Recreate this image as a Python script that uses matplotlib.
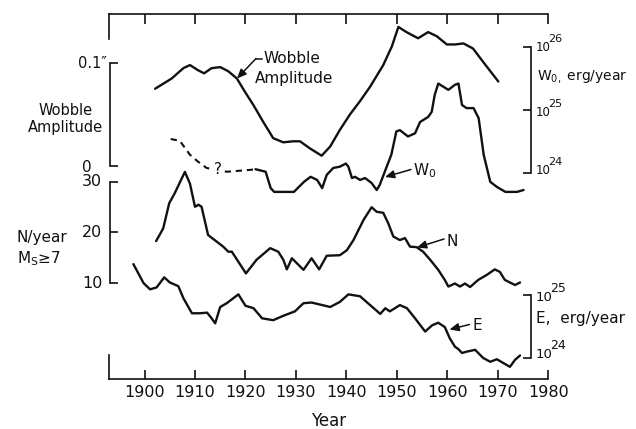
import numpy as np
import matplotlib
matplotlib.use("Agg")
import matplotlib.pyplot as plt
from matplotlib.lines import Line2D
from matplotlib.patches import FancyArrowPatch

plt.rcParams['font.family'] = ['DejaVu Sans']

# ---------------- data ----------------
decades = [1900, 1910, 1920, 1930, 1940, 1950, 1960, 1970, 1980]

wobble_year = [1902.1, 1905.4, 1907.7, 1909.0, 1910.6, 1911.8, 1913.3, 1915.0, 1916.6,
               1918.3, 1919.9, 1921.6, 1923.5, 1925.5, 1927.5, 1929.5, 1930.8, 1932.8,
               1935.1, 1936.8, 1938.7, 1940.7, 1942.7, 1944.7, 1947.3, 1949.0, 1950.3,
               1951.9, 1954.2, 1956.2, 1957.9, 1959.9, 1961.5, 1963.2, 1965.1, 1967.1, 1970.1]
wobble_amp = [0.075, 0.085, 0.095, 0.098, 0.093, 0.090, 0.095, 0.096, 0.092,
              0.085, 0.072, 0.059, 0.043, 0.027, 0.023, 0.024, 0.024, 0.017,
              0.010, 0.019, 0.035, 0.050, 0.063, 0.077, 0.098, 0.116, 0.135,
              0.130, 0.124, 0.130, 0.126, 0.118, 0.118, 0.119, 0.114, 0.101, 0.082]

# W0, uncertain (dashed) early part, log10(erg/year)
w0_dash_year = [1905.2, 1907.0, 1909.0, 1910.6, 1912.3, 1916.3, 1921.0, 1922.0]
w0_dash_log = [24.54, 24.51, 24.29, 24.18, 24.08, 24.02, 24.05, 24.06]
# W0, solid part, log10(erg/year)
w0_year = [1922.0, 1924.0, 1925.0, 1925.7, 1929.6, 1931.6, 1932.9, 1934.2, 1935.2, 1936.1,
           1937.4, 1938.7, 1939.9, 1940.4, 1941.1, 1941.7, 1942.7, 1943.7, 1945.0, 1946.0,
           1946.6, 1947.6, 1948.9, 1949.9, 1950.6, 1952.2, 1953.6, 1954.6, 1956.2, 1956.9,
           1957.5, 1958.2, 1959.2, 1960.2, 1961.5, 1962.2, 1962.9, 1963.8, 1965.2, 1966.2,
           1967.2, 1968.5, 1969.8, 1971.5, 1973.8, 1975.1]
w0_log = [24.06, 24.02, 23.76, 23.70, 23.70, 23.86, 23.94, 23.89, 23.76, 23.97,
          24.08, 24.10, 24.15, 24.10, 23.92, 23.94, 23.89, 23.92, 23.84, 23.73,
          23.81, 24.02, 24.29, 24.66, 24.68, 24.58, 24.63, 24.81, 24.89, 24.97,
          25.24, 25.42, 25.37, 25.32, 25.40, 25.42, 25.08, 25.03, 25.03, 24.87,
          24.29, 23.86, 23.78, 23.70, 23.70, 23.73]

# N: number of earthquakes per year with Ms >= 7
n_year = [1902.3, 1903.7, 1904.9, 1906.0, 1908.0, 1909.0, 1910.0, 1910.7, 1911.3, 1912.6,
          1914.3, 1915.6, 1916.6, 1917.3, 1920.1, 1922.2, 1924.9, 1926.5, 1927.5, 1928.2,
          1929.2, 1931.5, 1933.1, 1934.6, 1936.1, 1938.7, 1940.1, 1941.4, 1943.4, 1945.0,
          1946.0, 1947.3, 1948.3, 1949.3, 1950.6, 1951.6, 1952.6, 1953.9, 1955.2, 1956.6,
          1958.2, 1959.5, 1960.2, 1961.5, 1962.5, 1963.5, 1964.5, 1966.1, 1967.8, 1969.4,
          1970.4, 1971.4, 1973.4, 1974.4]
n_rate = [18.3, 20.8, 25.8, 27.8, 32.0, 29.7, 25.1, 25.5, 25.1, 19.5,
          18.2, 17.2, 16.2, 16.2, 11.9, 14.6, 16.9, 16.2, 14.6, 12.7,
          14.9, 12.6, 14.9, 12.7, 15.4, 15.5, 16.5, 18.5, 22.5, 25.0,
          24.1, 23.9, 21.8, 19.2, 18.5, 18.9, 17.2, 17.1, 16.2, 14.6,
          12.6, 10.6, 9.3, 9.9, 9.3, 9.9, 9.2, 10.6, 11.6, 12.7,
          12.2, 10.6, 9.6, 10.1]

# E: seismic energy release, log10(erg/year)
e_year = [1897.8, 1899.8, 1901.1, 1902.4, 1903.9, 1905.0, 1906.7, 1907.7, 1909.4, 1911.0,
          1912.4, 1913.3, 1914.0, 1915.0, 1916.3, 1918.6, 1920.0, 1921.6, 1923.3, 1925.5,
          1927.5, 1929.8, 1931.5, 1933.1, 1936.8, 1938.7, 1940.4, 1942.7, 1944.7, 1946.7,
          1947.7, 1948.6, 1950.6, 1952.0, 1953.6, 1955.6, 1957.0, 1958.2, 1959.5, 1960.5,
          1961.5, 1962.2, 1962.9, 1963.8, 1965.5, 1967.1, 1968.5, 1969.8, 1971.1, 1972.4,
          1973.4, 1974.4]
e_log = [25.49, 25.19, 25.09, 25.12, 25.28, 25.20, 25.14, 24.95, 24.71, 24.71,
         24.72, 24.63, 24.55, 24.81, 24.87, 25.01, 24.83, 24.79, 24.63, 24.60,
         24.67, 24.74, 24.87, 24.88, 24.81, 24.89, 25.01, 24.98, 24.84, 24.70,
         24.79, 24.74, 24.84, 24.79, 24.63, 24.42, 24.52, 24.56, 24.49, 24.31,
         24.18, 24.14, 24.08, 24.10, 24.13, 24.00, 23.94, 23.98, 23.92, 23.86,
         23.97, 24.04]

# ---------------- layout helpers (pixels from top-left) ----------------
W, H = 636, 429
fig = plt.figure(figsize=(W / 100, H / 100), dpi=100)
fig.patch.set_facecolor('white')

def fx(p):
    return p / W

def fy(p):
    return 1 - p / H

PX_L, PX_R = 108.5, 548.3
X_MIN, X_MAX = 1900 - (144.5 - PX_L) / 5.0475, 1980
LW = 1.7
AXLW = 1.2
INK = '#111111'

def ylims(v_a, p_a, v_b, p_b):
    s = (v_a - v_b) / (p_b - p_a)
    return v_a - (H - p_a) * s, v_a + p_a * s

def data_axes(ylim, log=False):
    a = fig.add_axes([fx(PX_L), 0, fx(PX_R) - fx(PX_L), 1])
    a.set_xlim(X_MIN, X_MAX)
    if log:
        a.set_yscale('log')
        a.set_ylim(10 ** ylim[0], 10 ** ylim[1])
    else:
        a.set_ylim(*ylim)
    a.axis('off')
    a.patch.set_alpha(0)
    return a

style = dict(color=INK, lw=LW, solid_joinstyle='round', solid_capstyle='round')

# ---------------- curves ----------------
ax_wob = data_axes(ylims(0.1, 63, 0.0, 166))
ax_wob.plot(wobble_year, wobble_amp, **style)

ax_w0 = data_axes(ylims(26, 47, 24, 173), log=True)
ax_w0.plot(w0_dash_year, 10 ** np.array(w0_dash_log), color=INK, lw=1.5,
           ls=(0, (3.0, 2.3)))
ax_w0.plot(w0_year, 10 ** np.array(w0_log), **style)

ax_n = data_axes(ylims(30, 182, 10, 283))
ax_n.plot(n_year, n_rate, **style)

ax_e = data_axes(ylims(25, 295, 24, 358), log=True)
ax_e.plot(e_year, 10 ** np.array(e_log), **style)

# ---------------- time axes (top and bottom) ----------------
def clean(a):
    a.patch.set_alpha(0)
    for s in a.spines.values():
        s.set_visible(False)
        s.set_linewidth(AXLW)
        s.set_color(INK)

ax_bot = fig.add_axes([fx(PX_L), fy(378.5), fx(PX_R) - fx(PX_L), (378.5 - 355) / H])
clean(ax_bot)
ax_bot.set_xlim(X_MIN, X_MAX)
ax_bot.spines['bottom'].set_visible(True)
ax_bot.spines['left'].set_visible(True)
ax_bot.set_xticks(decades)
ax_bot.set_xticklabels([str(d) for d in decades])
ax_bot.set_yticks([])
ax_bot.tick_params(axis='x', direction='in', length=6.5, width=AXLW, color=INK,
                   labelsize=11.5, pad=5, labelcolor=INK)
ax_bot.set_xlabel('Year', fontsize=12, color=INK, labelpad=8)

ax_top = fig.add_axes([fx(PX_L), fy(39), fx(PX_R) - fx(PX_L), (39 - 14) / H])
clean(ax_top)
ax_top.set_xlim(X_MIN, X_MAX)
ax_top.spines['top'].set_visible(True)
ax_top.spines['left'].set_visible(True)
ax_top.xaxis.tick_top()
ax_top.set_xticks(decades)
ax_top.set_xticklabels([])
ax_top.set_yticks([])
ax_top.tick_params(axis='x', direction='in', length=7.2, width=AXLW, color=INK)

# ---------------- scale brackets ----------------
def bracket(p_top, p_bot, lim, ticks, side, x_px, log=False):
    w = 10
    left = x_px if side == 'left' else x_px - w
    a = fig.add_axes([fx(left), fy(p_bot), w / W, (p_bot - p_top) / H])
    clean(a)
    a.spines[side].set_visible(True)
    if log:
        a.set_yscale('log')
    a.set_ylim(*lim)
    a.set_xticks([])
    a.set_yticks(ticks)
    a.minorticks_off()
    if side == 'right':
        a.yaxis.tick_right()
    a.tick_params(axis='y', direction='in', length=5.5, width=AXLW, color=INK,
                  labelsize=11.5, pad=5.5, labelcolor=INK)
    return a

b_wob = bracket(63, 166, (0, 0.1), [0, 0.1], 'left', 110)
b_wob.set_yticklabels([])
b_n = bracket(182, 283, (10, 30), [10, 20, 30], 'left', 110)
b_n.set_yticklabels(['10', '20', '30'], va='center')
b_w0 = bracket(47, 173, (1e24, 1e26), [1e24, 1e25, 1e26], 'right', 531, log=True)
b_w0.set_yticklabels([])
b_e = bracket(295, 358, (1e24, 1e25), [1e24, 1e25], 'right', 531, log=True)
b_e.set_yticklabels([])

# ---------------- text ----------------
def txt(x, y, s, size=11, ha='left', va='center', **kw):
    fig.text(fx(x), fy(y), s, fontsize=size, ha=ha, va=va, color=INK, **kw)

txt(107, 64, '0.1\u2033', size=10.5, ha='right')
txt(82, 167, '0', size=11)
txt(66, 115, 'Wobble', size=10.5, ha='center', va='baseline')
txt(65, 132, 'Amplitude', size=10.5, ha='center', va='baseline')
txt(17, 237.5, 'N/year', size=11)
txt(17, 263, r'M$_\mathregular{S}$' + '\u2265' + '7', size=11, va='baseline')

def power(x, y, e, size, esize):
    txt(x, y, '10', size=size)
    txt(x + 12.8 * size / 8.5, y - 8.5, e, size=esize)

power(535.5, 47.5, '26', 8.5, 8)
power(535.5, 112.5, '25', 8.5, 8)
power(535.5, 170, '24', 8.5, 8)
txt(537, 76, r'W$_\mathregular{0,}$ erg/year', size=10)
power(535.5, 297.5, '25', 9.5, 9)
power(535.5, 354, '24', 9.5, 9)
txt(536, 319, 'E,  erg/year', size=11)

# curve labels with arrows
def arrow(p_from, p_to):
    fig.add_artist(FancyArrowPatch(
        (p_from[0], H - p_from[1]), (p_to[0], H - p_to[1]), transform=None,
        arrowstyle='-|>,head_length=5.5,head_width=2.4', lw=1.1, color=INK,
        shrinkA=0, shrinkB=0))

txt(263, 63.3, 'Wobble', size=11, va='baseline')
txt(255, 83.3, 'Amplitude', size=11, va='baseline')
fig.add_artist(Line2D([fx(255.5), fx(262)], [fy(58.5), fy(58.5)], color=INK, lw=1.1))
arrow((256, 58.5), (237, 78.5))

txt(412.5, 175, r'W$_\mathregular{0}$', size=11, va='baseline')
arrow((411, 169.5), (385, 177))
txt(446, 246, 'N', size=11, va='baseline')
arrow((444, 239), (417, 247.5))
txt(472.5, 330.5, 'E', size=11, va='baseline')
arrow((469.5, 324.5), (449.5, 329.5))

fig.text(fx(217.5), fy(169), '?', fontsize=11, ha='center', va='center', color=INK,
         bbox=dict(boxstyle='square,pad=0.15', fc='white', ec='none'))

fig.savefig('out.png', dpi=100, facecolor='white')
